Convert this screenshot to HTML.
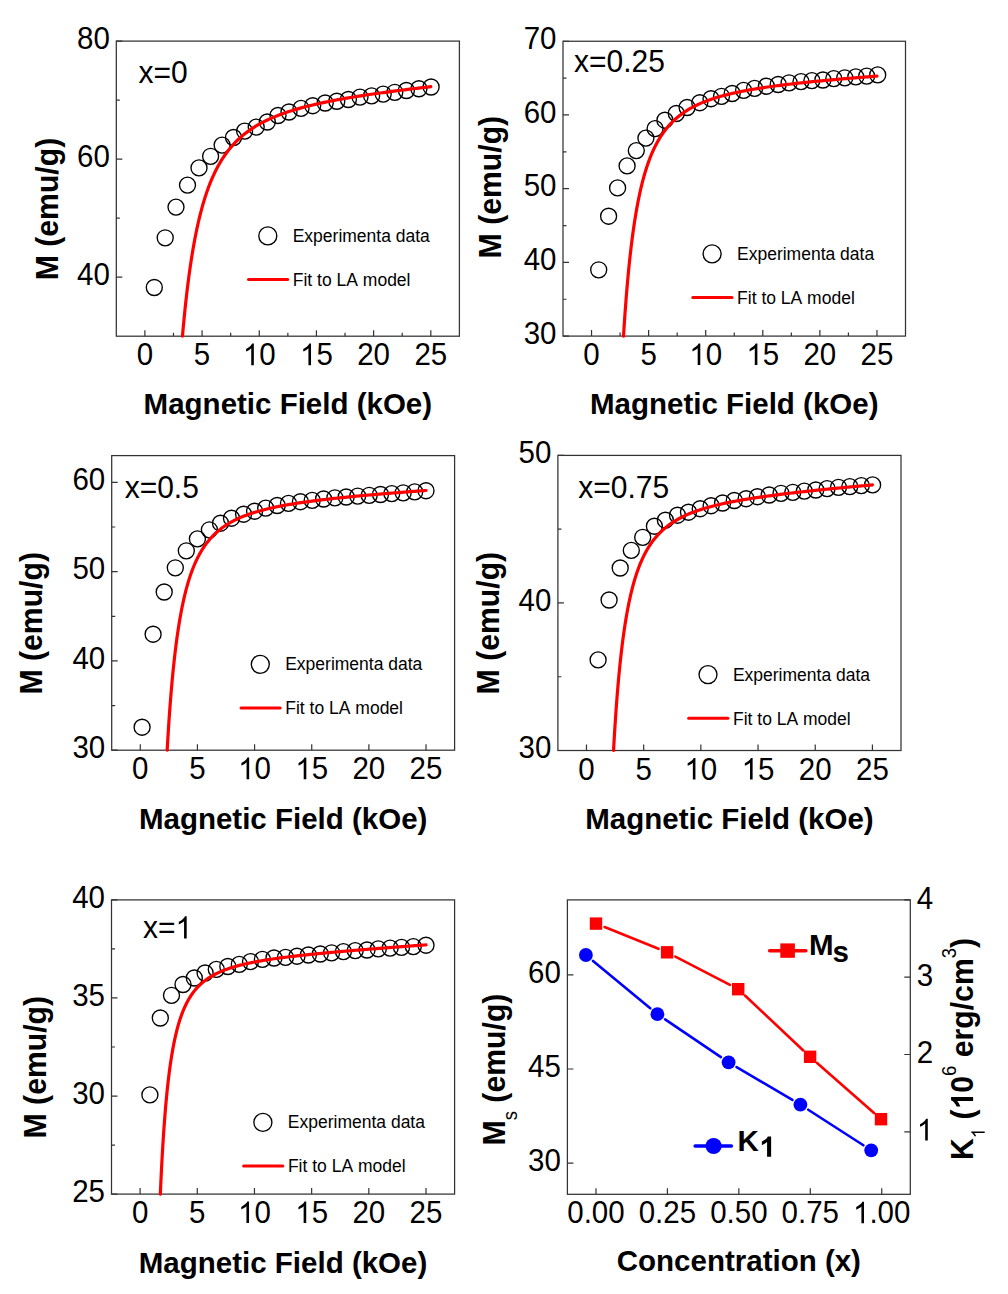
<!DOCTYPE html>
<html><head><meta charset="utf-8"><style>
html,body{margin:0;padding:0;background:#fff;}
svg{display:block;}
text{font-family:"Liberation Sans", sans-serif;fill:#000;font-kerning:none;white-space:pre;}
</style></head><body>
<svg width="1008" height="1294" viewBox="0 0 1008 1294">
<rect width="1008" height="1294" fill="#fff"/>
<path d="M116.30 277.18h6M116.30 159.14h6M116.30 41.10h6M116.30 218.16h3.5M116.30 100.12h3.5M144.89 336.20v-6M202.07 336.20v-6M259.26 336.20v-6M316.44 336.20v-6M373.62 336.20v-6M430.81 336.20v-6M173.48 336.20v-3.5M230.67 336.20v-3.5M287.85 336.20v-3.5M345.03 336.20v-3.5M402.22 336.20v-3.5" stroke="#333" stroke-width="1.2" fill="none"/>
<rect x="116.30" y="41.10" width="343.10" height="295.10" fill="none" stroke="#333" stroke-width="1.25"/>
<text transform="translate(76.99 284.98) scale(1 1.065)" font-size="29.5" font-weight="normal">40</text>
<text transform="translate(76.99 166.94) scale(1 1.065)" font-size="29.5" font-weight="normal">60</text>
<text transform="translate(76.99 48.90) scale(1 1.065)" font-size="29.5" font-weight="normal">80</text>
<text transform="translate(136.69 365.20) scale(1 1.065)" font-size="29.5" font-weight="normal">0</text>
<text transform="translate(193.87 365.20) scale(1 1.065)" font-size="29.5" font-weight="normal">5</text>
<path transform="translate(242.85 365.20) scale(0.01440 -0.01534)" d="M763 0H583V1098Q518 1038 413 979T223 890V1057Q374 1125 487 1221T647 1409H763Z" fill="#000"/><text transform="translate(259.26 365.20) scale(1 1.065)" font-size="29.5" font-weight="normal">0</text>
<path transform="translate(300.04 365.20) scale(0.01440 -0.01534)" d="M763 0H583V1098Q518 1038 413 979T223 890V1057Q374 1125 487 1221T647 1409H763Z" fill="#000"/><text transform="translate(316.44 365.20) scale(1 1.065)" font-size="29.5" font-weight="normal">5</text>
<text transform="translate(357.22 365.20) scale(1 1.065)" font-size="29.5" font-weight="normal">20</text>
<text transform="translate(414.40 365.20) scale(1 1.065)" font-size="29.5" font-weight="normal">25</text>
<text x="143.61" y="414.20" font-size="29.5" font-weight="bold">Magnetic Field (kOe)</text>
<g transform="translate(57.80 209.00) rotate(-90)"><text transform="translate(-71.30 0.00) scale(1 1.06)" font-size="30.2" font-weight="bold">M (emu/g)</text></g>
<text transform="translate(138.50 82.50) scale(1 1.07)" font-size="30" font-weight="normal">x=0</text>
<g fill="none" stroke="#000" stroke-width="1.35"><circle cx="154.30" cy="287.50" r="8"/><circle cx="165.20" cy="237.80" r="8"/><circle cx="176.00" cy="207.10" r="8"/><circle cx="187.50" cy="185.10" r="8"/><circle cx="199.00" cy="167.90" r="8"/><circle cx="210.60" cy="156.30" r="8"/><circle cx="222.10" cy="145.10" r="8"/><circle cx="233.50" cy="137.50" r="8"/><circle cx="244.60" cy="131.10" r="8"/><circle cx="256.20" cy="127.10" r="8"/><circle cx="267.30" cy="122.00" r="8"/><circle cx="278.00" cy="115.50" r="8"/><circle cx="289.00" cy="112.00" r="8"/><circle cx="301.00" cy="108.40" r="8"/><circle cx="312.70" cy="105.70" r="8"/><circle cx="325.20" cy="103.00" r="8"/><circle cx="336.80" cy="101.25" r="8"/><circle cx="348.40" cy="99.50" r="8"/><circle cx="360.00" cy="97.10" r="8"/><circle cx="371.60" cy="95.90" r="8"/><circle cx="383.20" cy="94.10" r="8"/><circle cx="394.80" cy="92.30" r="8"/><circle cx="406.40" cy="90.50" r="8"/><circle cx="418.90" cy="88.75" r="8"/><circle cx="431.10" cy="87.00" r="8"/></g>
<path d="M182.47 336.20 L182.67 333.90 L182.87 331.63 L183.07 329.39 L183.27 327.19 L183.47 325.01 L183.68 322.87 L183.88 320.76 L184.08 318.68 L184.28 316.62 L184.48 314.60 L184.68 312.60 L184.88 310.63 L185.08 308.69 L185.28 306.78 L185.48 304.89 L185.69 303.02 L185.89 301.18 L186.09 299.37 L186.29 297.58 L186.49 295.81 L186.69 294.07 L186.89 292.35 L187.09 290.65 L187.29 288.98 L187.49 287.33 L187.70 285.69 L187.90 284.08 L188.10 282.49 L188.30 280.92 L188.50 279.37 L188.70 277.84 L188.90 276.33 L189.10 274.84 L189.30 273.37 L189.50 271.91 L189.71 270.47 L189.91 269.05 L190.11 267.65 L190.31 266.27 L190.51 264.90 L190.71 263.55 L190.91 262.21 L191.11 260.89 L191.31 259.59 L191.51 258.30 L191.72 257.03 L191.92 255.77 L192.12 254.53 L192.32 253.30 L192.52 252.09 L192.72 250.89 L192.92 249.70 L193.12 248.53 L193.32 247.37 L193.52 246.22 L193.73 245.09 L193.93 243.97 L194.13 242.86 L194.33 241.77 L194.53 240.69 L194.73 239.62 L194.93 238.56 L195.13 237.51 L195.33 236.48 L195.54 235.45 L195.74 234.44 L195.94 233.44 L196.14 232.45 L196.34 231.47 L196.54 230.50 L196.74 229.54 L196.94 228.59 L197.14 227.65 L197.34 226.73 L197.55 225.81 L197.75 224.90 L197.95 224.00 L198.15 223.11 L198.35 222.23 L198.55 221.36 L198.75 220.49 L198.95 219.64 L199.15 218.80 L199.35 217.96 L199.56 217.13 L199.76 216.31 L199.96 215.50 L200.16 214.70 L200.36 213.90 L200.56 213.12 L200.76 212.34 L200.96 211.57 L201.16 210.80 L201.36 210.05 L201.57 209.30 L201.77 208.56 L201.97 207.82 L202.17 207.09 L202.37 206.37 L202.57 205.66 L202.77 204.95 L202.97 204.26 L203.17 203.56 L203.37 202.88 L203.58 202.20 L203.78 201.52 L203.98 200.86 L204.18 200.20 L204.38 199.54 L204.58 198.89 L204.78 198.25 L204.98 197.61 L205.18 196.98 L205.38 196.36 L205.59 195.74 L205.79 195.13 L205.99 194.52 L206.19 193.92 L206.39 193.32 L206.59 192.73 L206.79 192.14 L206.99 191.56 L207.19 190.99 L207.39 190.42 L207.60 189.85 L207.80 189.29 L208.00 188.73 L208.20 188.18 L208.40 187.64 L208.60 187.10 L208.80 186.56 L209.00 186.03 L209.20 185.50 L209.40 184.98 L209.61 184.46 L209.81 183.95 L210.01 183.44 L210.21 182.93 L210.41 182.43 L210.61 181.94 L210.81 181.44 L211.01 180.96 L211.21 180.47 L211.41 179.99 L211.62 179.52 L211.82 179.04 L212.02 178.58 L212.22 178.11 L212.42 177.65 L212.62 177.19 L212.82 176.74 L213.02 176.29 L213.22 175.85 L213.42 175.40 L213.63 174.97 L213.83 174.53 L214.03 174.10 L214.23 173.67 L214.43 173.25 L214.63 172.82 L214.83 172.41 L215.03 171.99 L215.23 171.58 L215.43 171.17 L215.64 170.77 L215.84 170.37 L216.04 169.97 L216.24 169.57 L216.44 169.18 L216.64 168.79 L216.84 168.40 L217.04 168.02 L217.24 167.64 L217.44 167.26 L217.65 166.89 L217.85 166.51 L218.05 166.14 L218.25 165.78 L218.45 165.41 L218.65 165.05 L218.85 164.69 L219.05 164.34 L219.25 163.99 L219.45 163.63 L219.66 163.29 L219.86 162.94 L220.06 162.60 L220.26 162.26 L220.46 161.92 L220.66 161.58 L220.86 161.25 L221.06 160.92 L221.26 160.59 L221.46 160.27 L221.67 159.94 L221.87 159.62 L222.07 159.30 L222.27 158.99 L222.47 158.67 L224.22 156.03 L225.97 153.53 L227.72 151.18 L229.47 148.96 L231.22 146.86 L232.97 144.87 L234.72 142.99 L236.48 141.20 L238.23 139.50 L239.98 137.88 L241.73 136.34 L243.48 134.87 L245.23 133.47 L246.98 132.12 L248.73 130.84 L250.48 129.61 L252.23 128.44 L253.98 127.31 L255.73 126.22 L257.48 125.18 L259.24 124.18 L260.99 123.22 L262.74 122.29 L264.49 121.39 L266.24 120.53 L267.99 119.70 L269.74 118.89 L271.49 118.11 L273.24 117.36 L274.99 116.63 L276.74 115.92 L278.49 115.24 L280.24 114.57 L282.00 113.92 L283.75 113.30 L285.50 112.69 L287.25 112.09 L289.00 111.52 L290.75 110.96 L292.50 110.41 L294.25 109.88 L296.00 109.36 L297.75 108.85 L299.50 108.35 L301.25 107.87 L303.00 107.40 L304.75 106.93 L306.51 106.48 L308.26 106.04 L310.01 105.61 L311.76 105.18 L313.51 104.77 L315.26 104.36 L317.01 103.96 L318.76 103.57 L320.51 103.18 L322.26 102.81 L324.01 102.44 L325.76 102.07 L327.51 101.71 L329.27 101.36 L331.02 101.02 L332.77 100.67 L334.52 100.34 L336.27 100.01 L338.02 99.68 L339.77 99.36 L341.52 99.05 L343.27 98.74 L345.02 98.43 L346.77 98.13 L348.52 97.83 L350.27 97.54 L352.02 97.24 L353.78 96.96 L355.53 96.67 L357.28 96.39 L359.03 96.12 L360.78 95.84 L362.53 95.57 L364.28 95.31 L366.03 95.04 L367.78 94.78 L369.53 94.52 L371.28 94.26 L373.03 94.01 L374.78 93.76 L376.54 93.51 L378.29 93.26 L380.04 93.02 L381.79 92.78 L383.54 92.54 L385.29 92.30 L387.04 92.06 L388.79 91.83 L390.54 91.60 L392.29 91.37 L394.04 91.14 L395.79 90.91 L397.54 90.69 L399.29 90.47 L401.05 90.25 L402.80 90.03 L404.55 89.81 L406.30 89.59 L408.05 89.38 L409.80 89.16 L411.55 88.95 L413.30 88.74 L415.05 88.53 L416.80 88.32 L418.55 88.11 L420.30 87.91 L422.05 87.70 L423.81 87.50 L425.56 87.30 L427.31 87.10 L429.06 86.90 L430.81 86.70" fill="none" stroke="#f00" stroke-width="3.2" stroke-linecap="round" stroke-linejoin="round"/>
<circle cx="267.80" cy="235.90" r="9" fill="none" stroke="#000" stroke-width="1.35"/>
<text x="292.70" y="241.80" font-size="17.5" font-weight="normal">Experimenta data</text>
<path d="M248.50 279.60H287.70" stroke="#f00" stroke-width="3" stroke-linecap="round"/>
<text x="292.80" y="285.90" font-size="17.5" font-weight="normal">Fit to LA model</text>
<path d="M563.00 336.10h6M563.00 262.39h6M563.00 188.68h6M563.00 114.96h6M563.00 41.25h6M563.00 299.24h3.5M563.00 225.53h3.5M563.00 151.82h3.5M563.00 78.11h3.5M591.54 336.10v-6M648.62 336.10v-6M705.71 336.10v-6M762.79 336.10v-6M819.88 336.10v-6M876.96 336.10v-6M620.08 336.10v-3.5M677.17 336.10v-3.5M734.25 336.10v-3.5M791.33 336.10v-3.5M848.42 336.10v-3.5" stroke="#333" stroke-width="1.2" fill="none"/>
<rect x="563.00" y="41.25" width="342.50" height="294.85" fill="none" stroke="#333" stroke-width="1.25"/>
<text transform="translate(523.69 343.90) scale(1 1.065)" font-size="29.5" font-weight="normal">30</text>
<text transform="translate(523.69 270.19) scale(1 1.065)" font-size="29.5" font-weight="normal">40</text>
<text transform="translate(523.69 196.48) scale(1 1.065)" font-size="29.5" font-weight="normal">50</text>
<text transform="translate(523.69 122.76) scale(1 1.065)" font-size="29.5" font-weight="normal">60</text>
<text transform="translate(523.69 49.05) scale(1 1.065)" font-size="29.5" font-weight="normal">70</text>
<text transform="translate(583.34 365.10) scale(1 1.065)" font-size="29.5" font-weight="normal">0</text>
<text transform="translate(640.42 365.10) scale(1 1.065)" font-size="29.5" font-weight="normal">5</text>
<path transform="translate(689.30 365.10) scale(0.01440 -0.01534)" d="M763 0H583V1098Q518 1038 413 979T223 890V1057Q374 1125 487 1221T647 1409H763Z" fill="#000"/><text transform="translate(705.71 365.10) scale(1 1.065)" font-size="29.5" font-weight="normal">0</text>
<path transform="translate(746.39 365.10) scale(0.01440 -0.01534)" d="M763 0H583V1098Q518 1038 413 979T223 890V1057Q374 1125 487 1221T647 1409H763Z" fill="#000"/><text transform="translate(762.79 365.10) scale(1 1.065)" font-size="29.5" font-weight="normal">5</text>
<text transform="translate(803.47 365.10) scale(1 1.065)" font-size="29.5" font-weight="normal">20</text>
<text transform="translate(860.55 365.10) scale(1 1.065)" font-size="29.5" font-weight="normal">25</text>
<text x="590.01" y="414.20" font-size="29.5" font-weight="bold">Magnetic Field (kOe)</text>
<g transform="translate(500.70 187.10) rotate(-90)"><text transform="translate(-71.30 0.00) scale(1 1.06)" font-size="30.2" font-weight="bold">M (emu/g)</text></g>
<text transform="translate(574.00 72.20) scale(1 1.07)" font-size="30" font-weight="normal">x=0.25</text>
<g fill="none" stroke="#000" stroke-width="1.35"><circle cx="598.70" cy="269.80" r="8"/><circle cx="608.60" cy="216.20" r="8"/><circle cx="617.60" cy="187.90" r="8"/><circle cx="627.10" cy="165.90" r="8"/><circle cx="636.30" cy="150.60" r="8"/><circle cx="645.90" cy="138.10" r="8"/><circle cx="655.10" cy="128.60" r="8"/><circle cx="664.90" cy="120.20" r="8"/><circle cx="676.30" cy="113.50" r="8"/><circle cx="687.10" cy="107.50" r="8"/><circle cx="699.80" cy="102.70" r="8"/><circle cx="711.00" cy="98.70" r="8"/><circle cx="721.50" cy="96.30" r="8"/><circle cx="732.20" cy="93.50" r="8"/><circle cx="743.60" cy="90.40" r="8"/><circle cx="754.60" cy="88.40" r="8"/><circle cx="766.40" cy="86.20" r="8"/><circle cx="778.20" cy="84.50" r="8"/><circle cx="789.10" cy="82.80" r="8"/><circle cx="801.00" cy="81.60" r="8"/><circle cx="811.90" cy="80.60" r="8"/><circle cx="822.90" cy="80.00" r="8"/><circle cx="833.80" cy="78.60" r="8"/><circle cx="844.80" cy="77.80" r="8"/><circle cx="855.80" cy="76.90" r="8"/><circle cx="866.70" cy="76.10" r="8"/><circle cx="877.70" cy="74.90" r="8"/></g>
<path d="M623.51 336.10 L623.71 332.89 L623.91 329.74 L624.11 326.65 L624.31 323.62 L624.51 320.64 L624.71 317.72 L624.91 314.86 L625.11 312.04 L625.32 309.28 L625.52 306.57 L625.72 303.91 L625.92 301.29 L626.12 298.73 L626.32 296.20 L626.52 293.73 L626.72 291.29 L626.92 288.90 L627.12 286.55 L627.33 284.24 L627.53 281.97 L627.73 279.73 L627.93 277.54 L628.13 275.38 L628.33 273.26 L628.53 271.17 L628.73 269.12 L628.93 267.10 L629.13 265.12 L629.34 263.17 L629.54 261.24 L629.74 259.35 L629.94 257.49 L630.14 255.66 L630.34 253.86 L630.54 252.09 L630.74 250.34 L630.94 248.62 L631.14 246.93 L631.35 245.27 L631.55 243.63 L631.75 242.01 L631.95 240.42 L632.15 238.85 L632.35 237.31 L632.55 235.79 L632.75 234.29 L632.95 232.81 L633.15 231.36 L633.36 229.93 L633.56 228.52 L633.76 227.13 L633.96 225.75 L634.16 224.40 L634.36 223.07 L634.56 221.76 L634.76 220.46 L634.96 219.18 L635.17 217.93 L635.37 216.68 L635.57 215.46 L635.77 214.25 L635.97 213.06 L636.17 211.89 L636.37 210.73 L636.57 209.59 L636.77 208.46 L636.97 207.35 L637.18 206.25 L637.38 205.17 L637.58 204.10 L637.78 203.04 L637.98 202.00 L638.18 200.98 L638.38 199.96 L638.58 198.96 L638.78 197.97 L638.98 197.00 L639.19 196.04 L639.39 195.09 L639.59 194.15 L639.79 193.22 L639.99 192.31 L640.19 191.40 L640.39 190.51 L640.59 189.63 L640.79 188.76 L640.99 187.90 L641.20 187.05 L641.40 186.21 L641.60 185.38 L641.80 184.56 L642.00 183.75 L642.20 182.95 L642.40 182.16 L642.60 181.38 L642.80 180.61 L643.00 179.85 L643.21 179.10 L643.41 178.35 L643.61 177.62 L643.81 176.89 L644.01 176.17 L644.21 175.46 L644.41 174.76 L644.61 174.06 L644.81 173.38 L645.01 172.70 L645.22 172.02 L645.42 171.36 L645.62 170.70 L645.82 170.06 L646.02 169.41 L646.22 168.78 L646.42 168.15 L646.62 167.53 L646.82 166.92 L647.02 166.31 L647.23 165.71 L647.43 165.11 L647.63 164.52 L647.83 163.94 L648.03 163.37 L648.23 162.80 L648.43 162.23 L648.63 161.67 L648.83 161.12 L649.03 160.58 L649.24 160.04 L649.44 159.50 L649.64 158.97 L649.84 158.45 L650.04 157.93 L650.24 157.42 L650.44 156.91 L650.64 156.41 L650.84 155.91 L651.04 155.42 L651.25 154.93 L651.45 154.44 L651.65 153.97 L651.85 153.49 L652.05 153.02 L652.25 152.56 L652.45 152.10 L652.65 151.65 L652.85 151.19 L653.05 150.75 L653.26 150.31 L653.46 149.87 L653.66 149.44 L653.86 149.01 L654.06 148.58 L654.26 148.16 L654.46 147.74 L654.66 147.33 L654.86 146.92 L655.06 146.51 L655.27 146.11 L655.47 145.71 L655.67 145.32 L655.87 144.93 L656.07 144.54 L656.27 144.16 L656.47 143.78 L656.67 143.40 L656.87 143.03 L657.07 142.66 L657.28 142.29 L657.48 141.93 L657.68 141.57 L657.88 141.21 L658.08 140.86 L658.28 140.51 L658.48 140.16 L658.68 139.82 L658.88 139.48 L659.08 139.14 L659.29 138.80 L659.49 138.47 L659.69 138.14 L659.89 137.81 L660.09 137.49 L660.29 137.17 L660.49 136.85 L660.69 136.54 L660.89 136.22 L661.09 135.91 L661.30 135.60 L661.50 135.30 L661.70 135.00 L661.90 134.70 L662.10 134.40 L662.30 134.10 L662.50 133.81 L662.70 133.52 L662.90 133.23 L663.10 132.95 L663.31 132.67 L663.51 132.39 L665.30 129.98 L667.09 127.74 L668.89 125.64 L670.68 123.68 L672.48 121.85 L674.27 120.13 L676.06 118.51 L677.86 116.99 L679.65 115.55 L681.44 114.20 L683.24 112.92 L685.03 111.70 L686.82 110.55 L688.62 109.46 L690.41 108.42 L692.21 107.43 L694.00 106.49 L695.79 105.59 L697.59 104.74 L699.38 103.92 L701.17 103.13 L702.97 102.38 L704.76 101.66 L706.56 100.97 L708.35 100.31 L710.14 99.67 L711.94 99.05 L713.73 98.46 L715.52 97.89 L717.32 97.34 L719.11 96.81 L720.91 96.30 L722.70 95.80 L724.49 95.32 L726.29 94.86 L728.08 94.41 L729.87 93.97 L731.67 93.55 L733.46 93.14 L735.26 92.74 L737.05 92.35 L738.84 91.97 L740.64 91.60 L742.43 91.24 L744.22 90.90 L746.02 90.55 L747.81 90.22 L749.60 89.90 L751.40 89.58 L753.19 89.27 L754.99 88.97 L756.78 88.67 L758.57 88.38 L760.37 88.10 L762.16 87.82 L763.95 87.55 L765.75 87.28 L767.54 87.02 L769.34 86.77 L771.13 86.51 L772.92 86.27 L774.72 86.02 L776.51 85.78 L778.30 85.55 L780.10 85.32 L781.89 85.09 L783.69 84.87 L785.48 84.65 L787.27 84.43 L789.07 84.22 L790.86 84.00 L792.65 83.80 L794.45 83.59 L796.24 83.39 L798.04 83.19 L799.83 82.99 L801.62 82.80 L803.42 82.61 L805.21 82.42 L807.00 82.23 L808.80 82.05 L810.59 81.86 L812.38 81.68 L814.18 81.50 L815.97 81.33 L817.77 81.15 L819.56 80.98 L821.35 80.80 L823.15 80.63 L824.94 80.47 L826.73 80.30 L828.53 80.13 L830.32 79.97 L832.12 79.81 L833.91 79.65 L835.70 79.49 L837.50 79.33 L839.29 79.17 L841.08 79.02 L842.88 78.86 L844.67 78.71 L846.47 78.56 L848.26 78.40 L850.05 78.25 L851.85 78.11 L853.64 77.96 L855.43 77.81 L857.23 77.66 L859.02 77.52 L860.81 77.37 L862.61 77.23 L864.40 77.09 L866.20 76.95 L867.99 76.81 L869.78 76.67 L871.58 76.53 L873.37 76.39 L875.16 76.25 L876.96 76.11" fill="none" stroke="#f00" stroke-width="3.2" stroke-linecap="round" stroke-linejoin="round"/>
<circle cx="712.10" cy="253.80" r="9" fill="none" stroke="#000" stroke-width="1.35"/>
<text x="737.00" y="259.70" font-size="17.5" font-weight="normal">Experimenta data</text>
<path d="M692.80 297.50H732.00" stroke="#f00" stroke-width="3" stroke-linecap="round"/>
<text x="737.10" y="303.80" font-size="17.5" font-weight="normal">Fit to LA model</text>
<path d="M111.70 750.20h6M111.70 660.93h6M111.70 571.65h6M111.70 482.38h6M111.70 705.56h3.5M111.70 616.29h3.5M111.70 527.02h3.5M140.28 750.20v-6M197.43 750.20v-6M254.58 750.20v-6M311.73 750.20v-6M368.88 750.20v-6M426.03 750.20v-6" stroke="#333" stroke-width="1.2" fill="none"/>
<rect x="111.70" y="455.60" width="342.90" height="294.60" fill="none" stroke="#333" stroke-width="1.25"/>
<text transform="translate(72.39 758.00) scale(1 1.065)" font-size="29.5" font-weight="normal">30</text>
<text transform="translate(72.39 668.73) scale(1 1.065)" font-size="29.5" font-weight="normal">40</text>
<text transform="translate(72.39 579.45) scale(1 1.065)" font-size="29.5" font-weight="normal">50</text>
<text transform="translate(72.39 490.18) scale(1 1.065)" font-size="29.5" font-weight="normal">60</text>
<text transform="translate(132.07 779.20) scale(1 1.065)" font-size="29.5" font-weight="normal">0</text>
<text transform="translate(189.22 779.20) scale(1 1.065)" font-size="29.5" font-weight="normal">5</text>
<path transform="translate(238.17 779.20) scale(0.01440 -0.01534)" d="M763 0H583V1098Q518 1038 413 979T223 890V1057Q374 1125 487 1221T647 1409H763Z" fill="#000"/><text transform="translate(254.58 779.20) scale(1 1.065)" font-size="29.5" font-weight="normal">0</text>
<path transform="translate(295.32 779.20) scale(0.01440 -0.01534)" d="M763 0H583V1098Q518 1038 413 979T223 890V1057Q374 1125 487 1221T647 1409H763Z" fill="#000"/><text transform="translate(311.73 779.20) scale(1 1.065)" font-size="29.5" font-weight="normal">5</text>
<text transform="translate(352.47 779.20) scale(1 1.065)" font-size="29.5" font-weight="normal">20</text>
<text transform="translate(409.62 779.20) scale(1 1.065)" font-size="29.5" font-weight="normal">25</text>
<text x="138.91" y="828.60" font-size="29.5" font-weight="bold">Magnetic Field (kOe)</text>
<g transform="translate(42.00 623.25) rotate(-90)"><text transform="translate(-71.30 0.00) scale(1 1.06)" font-size="30.2" font-weight="bold">M (emu/g)</text></g>
<text transform="translate(124.70 498.00) scale(1 1.07)" font-size="30" font-weight="normal">x=0.5</text>
<g fill="none" stroke="#000" stroke-width="1.35"><circle cx="142.10" cy="727.20" r="8"/><circle cx="153.10" cy="634.20" r="8"/><circle cx="164.20" cy="592.00" r="8"/><circle cx="175.30" cy="567.80" r="8"/><circle cx="186.30" cy="550.80" r="8"/><circle cx="197.40" cy="538.90" r="8"/><circle cx="209.40" cy="529.80" r="8"/><circle cx="220.50" cy="523.20" r="8"/><circle cx="231.50" cy="518.20" r="8"/><circle cx="243.60" cy="514.20" r="8"/><circle cx="254.60" cy="511.20" r="8"/><circle cx="265.70" cy="508.10" r="8"/><circle cx="277.20" cy="505.50" r="8"/><circle cx="288.50" cy="503.40" r="8"/><circle cx="300.40" cy="501.70" r="8"/><circle cx="312.20" cy="500.40" r="8"/><circle cx="323.60" cy="499.00" r="8"/><circle cx="334.90" cy="497.80" r="8"/><circle cx="346.20" cy="497.00" r="8"/><circle cx="357.70" cy="496.10" r="8"/><circle cx="369.20" cy="495.30" r="8"/><circle cx="380.50" cy="494.50" r="8"/><circle cx="391.80" cy="493.60" r="8"/><circle cx="403.20" cy="492.80" r="8"/><circle cx="414.70" cy="491.90" r="8"/><circle cx="426.00" cy="490.70" r="8"/></g>
<path d="M167.16 750.20 L167.37 746.67 L167.57 743.22 L167.77 739.84 L167.97 736.53 L168.17 733.28 L168.37 730.11 L168.57 727.00 L168.77 723.95 L168.97 720.96 L169.17 718.03 L169.38 715.16 L169.58 712.35 L169.78 709.59 L169.98 706.89 L170.18 704.24 L170.38 701.64 L170.58 699.09 L170.78 696.58 L170.98 694.13 L171.18 691.72 L171.39 689.35 L171.59 687.03 L171.79 684.75 L171.99 682.51 L172.19 680.32 L172.39 678.16 L172.59 676.04 L172.79 673.96 L172.99 671.91 L173.19 669.91 L173.40 667.93 L173.60 665.99 L173.80 664.09 L174.00 662.21 L174.20 660.37 L174.40 658.56 L174.60 656.79 L174.80 655.04 L175.00 653.32 L175.20 651.62 L175.41 649.96 L175.61 648.33 L175.81 646.72 L176.01 645.13 L176.21 643.57 L176.41 642.04 L176.61 640.53 L176.81 639.05 L177.01 637.59 L177.21 636.15 L177.42 634.73 L177.62 633.34 L177.82 631.97 L178.02 630.62 L178.22 629.28 L178.42 627.97 L178.62 626.68 L178.82 625.41 L179.02 624.16 L179.23 622.93 L179.43 621.71 L179.63 620.51 L179.83 619.33 L180.03 618.17 L180.23 617.03 L180.43 615.90 L180.63 614.78 L180.83 613.69 L181.03 612.61 L181.24 611.54 L181.44 610.49 L181.64 609.45 L181.84 608.43 L182.04 607.42 L182.24 606.43 L182.44 605.45 L182.64 604.48 L182.84 603.53 L183.04 602.59 L183.25 601.66 L183.45 600.74 L183.65 599.84 L183.85 598.95 L184.05 598.07 L184.25 597.20 L184.45 596.35 L184.65 595.50 L184.85 594.67 L185.05 593.84 L185.26 593.03 L185.46 592.23 L185.66 591.44 L185.86 590.65 L186.06 589.88 L186.26 589.12 L186.46 588.37 L186.66 587.62 L186.86 586.89 L187.06 586.16 L187.27 585.45 L187.47 584.74 L187.67 584.04 L187.87 583.35 L188.07 582.67 L188.27 581.99 L188.47 581.33 L188.67 580.67 L188.87 580.02 L189.07 579.38 L189.28 578.74 L189.48 578.12 L189.68 577.50 L189.88 576.88 L190.08 576.28 L190.28 575.68 L190.48 575.09 L190.68 574.50 L190.88 573.93 L191.08 573.35 L191.29 572.79 L191.49 572.23 L191.69 571.68 L191.89 571.13 L192.09 570.59 L192.29 570.06 L192.49 569.53 L192.69 569.01 L192.89 568.49 L193.09 567.98 L193.30 567.47 L193.50 566.97 L193.70 566.48 L193.90 565.99 L194.10 565.50 L194.30 565.03 L194.50 564.55 L194.70 564.08 L194.90 563.62 L195.10 563.16 L195.31 562.71 L195.51 562.26 L195.71 561.81 L195.91 561.37 L196.11 560.93 L196.31 560.50 L196.51 560.08 L196.71 559.65 L196.91 559.24 L197.11 558.82 L197.32 558.41 L197.52 558.01 L197.72 557.60 L197.92 557.21 L198.12 556.81 L198.32 556.42 L198.52 556.04 L198.72 555.66 L198.92 555.28 L199.12 554.90 L199.33 554.53 L199.53 554.16 L199.73 553.80 L199.93 553.44 L200.13 553.08 L200.33 552.73 L200.53 552.38 L200.73 552.03 L200.93 551.69 L201.13 551.35 L201.34 551.01 L201.54 550.68 L201.74 550.34 L201.94 550.02 L202.14 549.69 L202.34 549.37 L202.54 549.05 L202.74 548.73 L202.94 548.42 L203.14 548.11 L203.35 547.80 L203.55 547.50 L203.75 547.20 L203.95 546.90 L204.15 546.60 L204.35 546.31 L204.55 546.02 L204.75 545.73 L204.95 545.44 L205.15 545.16 L205.36 544.87 L205.56 544.60 L205.76 544.32 L205.96 544.05 L206.16 543.77 L206.36 543.50 L206.56 543.24 L206.76 542.97 L206.96 542.71 L207.16 542.45 L209.00 540.17 L210.84 538.05 L212.68 536.08 L214.52 534.25 L216.36 532.54 L218.20 530.94 L220.04 529.44 L221.88 528.03 L223.72 526.71 L225.56 525.46 L227.40 524.28 L229.23 523.17 L231.07 522.12 L232.91 521.13 L234.75 520.18 L236.59 519.28 L238.43 518.43 L240.27 517.62 L242.11 516.84 L243.95 516.10 L245.79 515.39 L247.63 514.72 L249.47 514.07 L251.30 513.44 L253.14 512.85 L254.98 512.27 L256.82 511.72 L258.66 511.19 L260.50 510.68 L262.34 510.18 L264.18 509.70 L266.02 509.24 L267.86 508.80 L269.70 508.37 L271.54 507.95 L273.37 507.54 L275.21 507.15 L277.05 506.77 L278.89 506.40 L280.73 506.04 L282.57 505.69 L284.41 505.34 L286.25 505.01 L288.09 504.69 L289.93 504.37 L291.77 504.06 L293.61 503.76 L295.44 503.47 L297.28 503.18 L299.12 502.90 L300.96 502.62 L302.80 502.35 L304.64 502.09 L306.48 501.83 L308.32 501.57 L310.16 501.33 L312.00 501.08 L313.84 500.84 L315.68 500.60 L317.51 500.37 L319.35 500.15 L321.19 499.92 L323.03 499.70 L324.87 499.48 L326.71 499.27 L328.55 499.06 L330.39 498.85 L332.23 498.65 L334.07 498.44 L335.91 498.24 L337.75 498.05 L339.58 497.85 L341.42 497.66 L343.26 497.47 L345.10 497.29 L346.94 497.10 L348.78 496.92 L350.62 496.74 L352.46 496.56 L354.30 496.38 L356.14 496.21 L357.98 496.03 L359.82 495.86 L361.65 495.69 L363.49 495.52 L365.33 495.36 L367.17 495.19 L369.01 495.03 L370.85 494.87 L372.69 494.71 L374.53 494.55 L376.37 494.39 L378.21 494.23 L380.05 494.07 L381.89 493.92 L383.72 493.77 L385.56 493.61 L387.40 493.46 L389.24 493.31 L391.08 493.16 L392.92 493.01 L394.76 492.87 L396.60 492.72 L398.44 492.57 L400.28 492.43 L402.12 492.29 L403.96 492.14 L405.79 492.00 L407.63 491.86 L409.47 491.72 L411.31 491.58 L413.15 491.44 L414.99 491.30 L416.83 491.16 L418.67 491.02 L420.51 490.89 L422.35 490.75 L424.19 490.62 L426.03 490.48" fill="none" stroke="#f00" stroke-width="3.2" stroke-linecap="round" stroke-linejoin="round"/>
<circle cx="260.30" cy="664.30" r="9" fill="none" stroke="#000" stroke-width="1.35"/>
<text x="285.20" y="670.20" font-size="17.5" font-weight="normal">Experimenta data</text>
<path d="M241.00 708.00H280.20" stroke="#f00" stroke-width="3" stroke-linecap="round"/>
<text x="285.30" y="714.30" font-size="17.5" font-weight="normal">Fit to LA model</text>
<path d="M557.90 750.50h6M557.90 602.95h6M557.90 455.40h6M557.90 676.73h3.5M557.90 529.17h3.5M586.49 750.50v-6M643.67 750.50v-6M700.86 750.50v-6M758.04 750.50v-6M815.23 750.50v-6M872.41 750.50v-6" stroke="#333" stroke-width="1.2" fill="none"/>
<rect x="557.90" y="455.40" width="343.10" height="295.10" fill="none" stroke="#333" stroke-width="1.25"/>
<text transform="translate(518.59 758.30) scale(1 1.065)" font-size="29.5" font-weight="normal">30</text>
<text transform="translate(518.59 610.75) scale(1 1.065)" font-size="29.5" font-weight="normal">40</text>
<text transform="translate(518.59 463.20) scale(1 1.065)" font-size="29.5" font-weight="normal">50</text>
<text transform="translate(578.29 779.50) scale(1 1.065)" font-size="29.5" font-weight="normal">0</text>
<text transform="translate(635.47 779.50) scale(1 1.065)" font-size="29.5" font-weight="normal">5</text>
<path transform="translate(684.45 779.50) scale(0.01440 -0.01534)" d="M763 0H583V1098Q518 1038 413 979T223 890V1057Q374 1125 487 1221T647 1409H763Z" fill="#000"/><text transform="translate(700.86 779.50) scale(1 1.065)" font-size="29.5" font-weight="normal">0</text>
<path transform="translate(741.64 779.50) scale(0.01440 -0.01534)" d="M763 0H583V1098Q518 1038 413 979T223 890V1057Q374 1125 487 1221T647 1409H763Z" fill="#000"/><text transform="translate(758.04 779.50) scale(1 1.065)" font-size="29.5" font-weight="normal">5</text>
<text transform="translate(798.82 779.50) scale(1 1.065)" font-size="29.5" font-weight="normal">20</text>
<text transform="translate(856.00 779.50) scale(1 1.065)" font-size="29.5" font-weight="normal">25</text>
<text x="585.21" y="828.60" font-size="29.5" font-weight="bold">Magnetic Field (kOe)</text>
<g transform="translate(499.00 623.10) rotate(-90)"><text transform="translate(-71.30 0.00) scale(1 1.06)" font-size="30.2" font-weight="bold">M (emu/g)</text></g>
<text transform="translate(578.30 497.60) scale(1 1.07)" font-size="30" font-weight="normal">x=0.75</text>
<g fill="none" stroke="#000" stroke-width="1.35"><circle cx="598.10" cy="659.90" r="8"/><circle cx="609.10" cy="600.00" r="8"/><circle cx="620.20" cy="568.00" r="8"/><circle cx="631.30" cy="550.40" r="8"/><circle cx="642.70" cy="537.30" r="8"/><circle cx="654.40" cy="526.20" r="8"/><circle cx="665.40" cy="520.20" r="8"/><circle cx="677.50" cy="515.20" r="8"/><circle cx="688.50" cy="512.20" r="8"/><circle cx="700.20" cy="508.70" r="8"/><circle cx="711.10" cy="505.70" r="8"/><circle cx="722.60" cy="503.00" r="8"/><circle cx="734.30" cy="500.50" r="8"/><circle cx="746.10" cy="498.70" r="8"/><circle cx="757.40" cy="496.70" r="8"/><circle cx="769.20" cy="495.00" r="8"/><circle cx="781.00" cy="493.30" r="8"/><circle cx="792.80" cy="492.30" r="8"/><circle cx="804.30" cy="491.10" r="8"/><circle cx="815.80" cy="490.00" r="8"/><circle cx="827.10" cy="488.60" r="8"/><circle cx="838.50" cy="487.30" r="8"/><circle cx="849.80" cy="486.60" r="8"/><circle cx="861.30" cy="485.60" r="8"/><circle cx="872.60" cy="484.90" r="8"/></g>
<path d="M613.54 750.50 L613.74 746.89 L613.94 743.35 L614.14 739.89 L614.34 736.51 L614.54 733.19 L614.74 729.94 L614.95 726.76 L615.15 723.65 L615.35 720.60 L615.55 717.61 L615.75 714.68 L615.95 711.81 L616.15 709.00 L616.35 706.24 L616.55 703.54 L616.75 700.89 L616.96 698.29 L617.16 695.74 L617.36 693.24 L617.56 690.78 L617.76 688.37 L617.96 686.01 L618.16 683.69 L618.36 681.42 L618.56 679.18 L618.76 676.99 L618.97 674.84 L619.17 672.72 L619.37 670.65 L619.57 668.61 L619.77 666.60 L619.97 664.63 L620.17 662.70 L620.37 660.80 L620.57 658.93 L620.77 657.10 L620.98 655.29 L621.18 653.52 L621.38 651.78 L621.58 650.06 L621.78 648.38 L621.98 646.72 L622.18 645.09 L622.38 643.48 L622.58 641.91 L622.78 640.35 L622.99 638.83 L623.19 637.33 L623.39 635.85 L623.59 634.39 L623.79 632.96 L623.99 631.55 L624.19 630.16 L624.39 628.80 L624.59 627.45 L624.79 626.13 L625.00 624.82 L625.20 623.54 L625.40 622.27 L625.60 621.03 L625.80 619.80 L626.00 618.59 L626.20 617.40 L626.40 616.23 L626.60 615.07 L626.81 613.93 L627.01 612.81 L627.21 611.70 L627.41 610.61 L627.61 609.53 L627.81 608.47 L628.01 607.43 L628.21 606.40 L628.41 605.38 L628.61 604.38 L628.82 603.39 L629.02 602.42 L629.22 601.45 L629.42 600.51 L629.62 599.57 L629.82 598.65 L630.02 597.74 L630.22 596.84 L630.42 595.96 L630.62 595.08 L630.83 594.22 L631.03 593.37 L631.23 592.53 L631.43 591.70 L631.63 590.88 L631.83 590.07 L632.03 589.27 L632.23 588.49 L632.43 587.71 L632.63 586.94 L632.84 586.18 L633.04 585.44 L633.24 584.70 L633.44 583.97 L633.64 583.25 L633.84 582.54 L634.04 581.83 L634.24 581.14 L634.44 580.45 L634.64 579.77 L634.85 579.11 L635.05 578.44 L635.25 577.79 L635.45 577.14 L635.65 576.51 L635.85 575.88 L636.05 575.25 L636.25 574.64 L636.45 574.03 L636.65 573.43 L636.86 572.83 L637.06 572.24 L637.26 571.66 L637.46 571.09 L637.66 570.52 L637.86 569.96 L638.06 569.40 L638.26 568.85 L638.46 568.31 L638.66 567.77 L638.87 567.24 L639.07 566.72 L639.27 566.20 L639.47 565.69 L639.67 565.18 L639.87 564.68 L640.07 564.18 L640.27 563.69 L640.47 563.20 L640.67 562.72 L640.88 562.24 L641.08 561.77 L641.28 561.31 L641.48 560.84 L641.68 560.39 L641.88 559.94 L642.08 559.49 L642.28 559.05 L642.48 558.61 L642.68 558.18 L642.89 557.75 L643.09 557.32 L643.29 556.90 L643.49 556.49 L643.69 556.08 L643.89 555.67 L644.09 555.27 L644.29 554.87 L644.49 554.47 L644.69 554.08 L644.90 553.69 L645.10 553.31 L645.30 552.93 L645.50 552.55 L645.70 552.18 L645.90 551.81 L646.10 551.44 L646.30 551.08 L646.50 550.72 L646.70 550.37 L646.91 550.01 L647.11 549.67 L647.31 549.32 L647.51 548.98 L647.71 548.64 L647.91 548.30 L648.11 547.97 L648.31 547.64 L648.51 547.31 L648.71 546.99 L648.92 546.67 L649.12 546.35 L649.32 546.04 L649.52 545.73 L649.72 545.42 L649.92 545.11 L650.12 544.81 L650.32 544.51 L650.52 544.21 L650.72 543.91 L650.93 543.62 L651.13 543.33 L651.33 543.04 L651.53 542.76 L651.73 542.47 L651.93 542.19 L652.13 541.91 L652.33 541.64 L652.53 541.37 L652.73 541.09 L652.94 540.83 L653.14 540.56 L653.34 540.30 L653.54 540.03 L655.38 537.74 L657.22 535.60 L659.06 533.62 L660.90 531.77 L662.73 530.05 L664.57 528.43 L666.41 526.91 L668.25 525.49 L670.09 524.15 L671.93 522.89 L673.77 521.69 L675.61 520.56 L677.45 519.49 L679.29 518.48 L681.13 517.51 L682.97 516.60 L684.81 515.72 L686.65 514.89 L688.48 514.09 L690.32 513.33 L692.16 512.60 L694.00 511.90 L695.84 511.23 L697.68 510.58 L699.52 509.96 L701.36 509.36 L703.20 508.78 L705.04 508.23 L706.88 507.69 L708.72 507.17 L710.56 506.67 L712.39 506.18 L714.23 505.71 L716.07 505.26 L717.91 504.81 L719.75 504.38 L721.59 503.96 L723.43 503.55 L725.27 503.16 L727.11 502.77 L728.95 502.39 L730.79 502.02 L732.63 501.66 L734.47 501.31 L736.30 500.97 L738.14 500.63 L739.98 500.31 L741.82 499.98 L743.66 499.67 L745.50 499.36 L747.34 499.06 L749.18 498.76 L751.02 498.47 L752.86 498.18 L754.70 497.90 L756.54 497.62 L758.38 497.35 L760.21 497.08 L762.05 496.81 L763.89 496.55 L765.73 496.30 L767.57 496.04 L769.41 495.79 L771.25 495.55 L773.09 495.30 L774.93 495.06 L776.77 494.83 L778.61 494.59 L780.45 494.36 L782.29 494.13 L784.12 493.91 L785.96 493.68 L787.80 493.46 L789.64 493.25 L791.48 493.03 L793.32 492.81 L795.16 492.60 L797.00 492.39 L798.84 492.18 L800.68 491.98 L802.52 491.77 L804.36 491.57 L806.20 491.37 L808.03 491.17 L809.87 490.97 L811.71 490.77 L813.55 490.58 L815.39 490.39 L817.23 490.19 L819.07 490.00 L820.91 489.81 L822.75 489.62 L824.59 489.44 L826.43 489.25 L828.27 489.07 L830.11 488.88 L831.95 488.70 L833.78 488.52 L835.62 488.34 L837.46 488.16 L839.30 487.98 L841.14 487.80 L842.98 487.63 L844.82 487.45 L846.66 487.27 L848.50 487.10 L850.34 486.93 L852.18 486.75 L854.02 486.58 L855.86 486.41 L857.69 486.24 L859.53 486.07 L861.37 485.90 L863.21 485.73 L865.05 485.57 L866.89 485.40 L868.73 485.23 L870.57 485.07 L872.41 484.90" fill="none" stroke="#f00" stroke-width="3.2" stroke-linecap="round" stroke-linejoin="round"/>
<circle cx="708.00" cy="674.60" r="9" fill="none" stroke="#000" stroke-width="1.35"/>
<text x="732.90" y="680.50" font-size="17.5" font-weight="normal">Experimenta data</text>
<path d="M688.70 718.30H727.90" stroke="#f00" stroke-width="3" stroke-linecap="round"/>
<text x="733.00" y="724.60" font-size="17.5" font-weight="normal">Fit to LA model</text>
<path d="M111.50 1194.10h6M111.50 1096.03h6M111.50 997.97h6M111.50 899.90h6M111.50 1145.07h3.5M111.50 1047.00h3.5M111.50 948.93h3.5M140.09 1194.10v-6M197.28 1194.10v-6M254.46 1194.10v-6M311.64 1194.10v-6M368.83 1194.10v-6M426.01 1194.10v-6" stroke="#333" stroke-width="1.2" fill="none"/>
<rect x="111.50" y="899.90" width="343.10" height="294.20" fill="none" stroke="#333" stroke-width="1.25"/>
<text transform="translate(72.19 1201.90) scale(1 1.065)" font-size="29.5" font-weight="normal">25</text>
<text transform="translate(72.19 1103.83) scale(1 1.065)" font-size="29.5" font-weight="normal">30</text>
<text transform="translate(72.19 1005.77) scale(1 1.065)" font-size="29.5" font-weight="normal">35</text>
<text transform="translate(72.19 907.70) scale(1 1.065)" font-size="29.5" font-weight="normal">40</text>
<text transform="translate(131.89 1223.10) scale(1 1.065)" font-size="29.5" font-weight="normal">0</text>
<text transform="translate(189.07 1223.10) scale(1 1.065)" font-size="29.5" font-weight="normal">5</text>
<path transform="translate(238.05 1223.10) scale(0.01440 -0.01534)" d="M763 0H583V1098Q518 1038 413 979T223 890V1057Q374 1125 487 1221T647 1409H763Z" fill="#000"/><text transform="translate(254.46 1223.10) scale(1 1.065)" font-size="29.5" font-weight="normal">0</text>
<path transform="translate(295.24 1223.10) scale(0.01440 -0.01534)" d="M763 0H583V1098Q518 1038 413 979T223 890V1057Q374 1125 487 1221T647 1409H763Z" fill="#000"/><text transform="translate(311.64 1223.10) scale(1 1.065)" font-size="29.5" font-weight="normal">5</text>
<text transform="translate(352.42 1223.10) scale(1 1.065)" font-size="29.5" font-weight="normal">20</text>
<text transform="translate(409.60 1223.10) scale(1 1.065)" font-size="29.5" font-weight="normal">25</text>
<text x="138.81" y="1273.00" font-size="29.5" font-weight="bold">Magnetic Field (kOe)</text>
<g transform="translate(45.70 1067.15) rotate(-90)"><text transform="translate(-71.30 0.00) scale(1 1.06)" font-size="30.2" font-weight="bold">M (emu/g)</text></g>
<text transform="translate(143.00 938.40) scale(1 1.07)" font-size="30" font-weight="normal">x=</text><path transform="translate(175.52 938.40) scale(0.01465 -0.01567)" d="M763 0H583V1098Q518 1038 413 979T223 890V1057Q374 1125 487 1221T647 1409H763Z" fill="#000"/>
<g fill="none" stroke="#000" stroke-width="1.35"><circle cx="149.90" cy="1094.90" r="8"/><circle cx="160.30" cy="1018.00" r="8"/><circle cx="171.50" cy="995.30" r="8"/><circle cx="183.00" cy="984.50" r="8"/><circle cx="194.30" cy="978.00" r="8"/><circle cx="205.10" cy="973.00" r="8"/><circle cx="216.30" cy="969.40" r="8"/><circle cx="227.80" cy="966.50" r="8"/><circle cx="239.30" cy="964.40" r="8"/><circle cx="250.50" cy="961.60" r="8"/><circle cx="262.40" cy="959.40" r="8"/><circle cx="274.00" cy="958.00" r="8"/><circle cx="285.50" cy="957.40" r="8"/><circle cx="297.00" cy="956.20" r="8"/><circle cx="308.40" cy="955.00" r="8"/><circle cx="320.30" cy="954.00" r="8"/><circle cx="331.60" cy="952.80" r="8"/><circle cx="343.40" cy="951.60" r="8"/><circle cx="355.20" cy="950.60" r="8"/><circle cx="367.00" cy="950.00" r="8"/><circle cx="378.30" cy="948.90" r="8"/><circle cx="390.10" cy="948.10" r="8"/><circle cx="401.50" cy="947.40" r="8"/><circle cx="413.30" cy="946.60" r="8"/><circle cx="426.00" cy="945.20" r="8"/></g>
<path d="M160.33 1194.10 L160.53 1189.51 L160.73 1185.06 L160.93 1180.74 L161.13 1176.54 L161.33 1172.45 L161.53 1168.48 L161.74 1164.62 L161.94 1160.87 L162.14 1157.22 L162.34 1153.67 L162.54 1150.21 L162.74 1146.84 L162.94 1143.56 L163.14 1140.37 L163.34 1137.26 L163.54 1134.23 L163.75 1131.27 L163.95 1128.39 L164.15 1125.58 L164.35 1122.84 L164.55 1120.17 L164.75 1117.56 L164.95 1115.02 L165.15 1112.53 L165.35 1110.11 L165.55 1107.74 L165.76 1105.42 L165.96 1103.16 L166.16 1100.95 L166.36 1098.80 L166.56 1096.69 L166.76 1094.63 L166.96 1092.61 L167.16 1090.64 L167.36 1088.71 L167.56 1086.82 L167.77 1084.98 L167.97 1083.17 L168.17 1081.40 L168.37 1079.67 L168.57 1077.98 L168.77 1076.32 L168.97 1074.69 L169.17 1073.10 L169.37 1071.54 L169.57 1070.02 L169.78 1068.52 L169.98 1067.05 L170.18 1065.62 L170.38 1064.21 L170.58 1062.82 L170.78 1061.47 L170.98 1060.14 L171.18 1058.84 L171.38 1057.56 L171.58 1056.30 L171.79 1055.07 L171.99 1053.86 L172.19 1052.68 L172.39 1051.52 L172.59 1050.37 L172.79 1049.25 L172.99 1048.15 L173.19 1047.07 L173.39 1046.01 L173.59 1044.96 L173.80 1043.94 L174.00 1042.93 L174.20 1041.94 L174.40 1040.97 L174.60 1040.01 L174.80 1039.07 L175.00 1038.15 L175.20 1037.24 L175.40 1036.35 L175.60 1035.47 L175.81 1034.61 L176.01 1033.76 L176.21 1032.93 L176.41 1032.11 L176.61 1031.30 L176.81 1030.50 L177.01 1029.72 L177.21 1028.95 L177.41 1028.19 L177.61 1027.45 L177.82 1026.71 L178.02 1025.99 L178.22 1025.28 L178.42 1024.58 L178.62 1023.89 L178.82 1023.21 L179.02 1022.54 L179.22 1021.88 L179.42 1021.24 L179.62 1020.60 L179.83 1019.97 L180.03 1019.35 L180.23 1018.74 L180.43 1018.13 L180.63 1017.54 L180.83 1016.96 L181.03 1016.38 L181.23 1015.81 L181.43 1015.25 L181.63 1014.70 L181.84 1014.15 L182.04 1013.62 L182.24 1013.09 L182.44 1012.57 L182.64 1012.05 L182.84 1011.54 L183.04 1011.04 L183.24 1010.55 L183.44 1010.06 L183.64 1009.58 L183.85 1009.11 L184.05 1008.64 L184.25 1008.18 L184.45 1007.72 L184.65 1007.27 L184.85 1006.83 L185.05 1006.39 L185.25 1005.96 L185.45 1005.53 L185.65 1005.11 L185.86 1004.69 L186.06 1004.28 L186.26 1003.88 L186.46 1003.48 L186.66 1003.08 L186.86 1002.69 L187.06 1002.30 L187.26 1001.92 L187.46 1001.55 L187.66 1001.18 L187.87 1000.81 L188.07 1000.45 L188.27 1000.09 L188.47 999.73 L188.67 999.38 L188.87 999.04 L189.07 998.70 L189.27 998.36 L189.47 998.03 L189.67 997.70 L189.88 997.37 L190.08 997.05 L190.28 996.73 L190.48 996.42 L190.68 996.10 L190.88 995.80 L191.08 995.49 L191.28 995.19 L191.48 994.89 L191.68 994.60 L191.89 994.31 L192.09 994.02 L192.29 993.74 L192.49 993.46 L192.69 993.18 L192.89 992.90 L193.09 992.63 L193.29 992.36 L193.49 992.10 L193.69 991.83 L193.90 991.57 L194.10 991.31 L194.30 991.06 L194.50 990.81 L194.70 990.56 L194.90 990.31 L195.10 990.07 L195.30 989.82 L195.50 989.58 L195.70 989.35 L195.91 989.11 L196.11 988.88 L196.31 988.65 L196.51 988.42 L196.71 988.20 L196.91 987.97 L197.11 987.75 L197.31 987.53 L197.51 987.32 L197.72 987.10 L197.92 986.89 L198.12 986.68 L198.32 986.47 L198.52 986.26 L198.72 986.06 L198.92 985.86 L199.12 985.66 L199.32 985.46 L199.52 985.26 L199.73 985.07 L199.93 984.87 L200.13 984.68 L200.33 984.49 L202.22 982.79 L204.12 981.23 L206.02 979.79 L207.91 978.45 L209.81 977.22 L211.71 976.07 L213.60 975.00 L215.50 974.00 L217.40 973.07 L219.29 972.19 L221.19 971.37 L223.09 970.59 L224.98 969.85 L226.88 969.16 L228.78 968.50 L230.67 967.88 L232.57 967.28 L234.46 966.72 L236.36 966.18 L238.26 965.66 L240.15 965.17 L242.05 964.70 L243.95 964.24 L245.84 963.81 L247.74 963.39 L249.64 962.98 L251.53 962.59 L253.43 962.22 L255.33 961.85 L257.22 961.50 L259.12 961.16 L261.02 960.83 L262.91 960.50 L264.81 960.19 L266.70 959.89 L268.60 959.59 L270.50 959.30 L272.39 959.02 L274.29 958.75 L276.19 958.48 L278.08 958.22 L279.98 957.96 L281.88 957.71 L283.77 957.46 L285.67 957.22 L287.57 956.98 L289.46 956.75 L291.36 956.52 L293.26 956.30 L295.15 956.08 L297.05 955.86 L298.94 955.65 L300.84 955.44 L302.74 955.23 L304.63 955.02 L306.53 954.82 L308.43 954.62 L310.32 954.43 L312.22 954.23 L314.12 954.04 L316.01 953.85 L317.91 953.66 L319.81 953.48 L321.70 953.30 L323.60 953.11 L325.50 952.94 L327.39 952.76 L329.29 952.58 L331.18 952.41 L333.08 952.23 L334.98 952.06 L336.87 951.89 L338.77 951.72 L340.67 951.56 L342.56 951.39 L344.46 951.23 L346.36 951.06 L348.25 950.90 L350.15 950.74 L352.05 950.58 L353.94 950.42 L355.84 950.26 L357.74 950.10 L359.63 949.95 L361.53 949.79 L363.42 949.64 L365.32 949.48 L367.22 949.33 L369.11 949.18 L371.01 949.02 L372.91 948.87 L374.80 948.72 L376.70 948.57 L378.60 948.43 L380.49 948.28 L382.39 948.13 L384.29 947.98 L386.18 947.84 L388.08 947.69 L389.98 947.54 L391.87 947.40 L393.77 947.26 L395.66 947.11 L397.56 946.97 L399.46 946.83 L401.35 946.68 L403.25 946.54 L405.15 946.40 L407.04 946.26 L408.94 946.12 L410.84 945.98 L412.73 945.84 L414.63 945.70 L416.53 945.56 L418.42 945.42 L420.32 945.28 L422.22 945.14 L424.11 945.01 L426.01 944.87" fill="none" stroke="#f00" stroke-width="3.2" stroke-linecap="round" stroke-linejoin="round"/>
<circle cx="262.90" cy="1122.40" r="9" fill="none" stroke="#000" stroke-width="1.35"/>
<text x="287.80" y="1128.30" font-size="17.5" font-weight="normal">Experimenta data</text>
<path d="M243.60 1166.10H282.80" stroke="#f00" stroke-width="3" stroke-linecap="round"/>
<text x="287.90" y="1172.40" font-size="17.5" font-weight="normal">Fit to LA model</text>
<path d="M567.40 1163.20h6M567.40 1069.00h6M567.40 974.80h6M910.30 1131.80h-6M910.30 1054.50h-6M910.30 977.20h-6M910.30 899.90h-6M595.98 1194.30v-6M667.41 1194.30v-6M738.85 1194.30v-6M810.29 1194.30v-6M881.73 1194.30v-6" stroke="#333" stroke-width="1.2" fill="none"/>
<rect x="567.40" y="899.90" width="342.90" height="294.40" fill="none" stroke="#333" stroke-width="1.25"/>
<text transform="translate(528.09 1171.00) scale(1 1.065)" font-size="29.5" font-weight="normal">30</text>
<text transform="translate(528.09 1076.80) scale(1 1.065)" font-size="29.5" font-weight="normal">45</text>
<text transform="translate(528.09 982.60) scale(1 1.065)" font-size="29.5" font-weight="normal">60</text>
<path transform="translate(916.80 1140.40) scale(0.01440 -0.01534)" d="M763 0H583V1098Q518 1038 413 979T223 890V1057Q374 1125 487 1221T647 1409H763Z" fill="#000"/>
<text transform="translate(916.80 1063.10) scale(1 1.065)" font-size="29.5" font-weight="normal">2</text>
<text transform="translate(916.80 985.80) scale(1 1.065)" font-size="29.5" font-weight="normal">3</text>
<text transform="translate(916.80 908.50) scale(1 1.065)" font-size="29.5" font-weight="normal">4</text>
<text transform="translate(567.27 1223.30) scale(1 1.065)" font-size="29.5" font-weight="normal">0.00</text>
<text transform="translate(638.70 1223.30) scale(1 1.065)" font-size="29.5" font-weight="normal">0.25</text>
<text transform="translate(710.14 1223.30) scale(1 1.065)" font-size="29.5" font-weight="normal">0.50</text>
<text transform="translate(781.58 1223.30) scale(1 1.065)" font-size="29.5" font-weight="normal">0.75</text>
<path transform="translate(853.02 1223.30) scale(0.01440 -0.01534)" d="M763 0H583V1098Q518 1038 413 979T223 890V1057Q374 1125 487 1221T647 1409H763Z" fill="#000"/><text transform="translate(869.42 1223.30) scale(1 1.065)" font-size="29.5" font-weight="normal">.00</text>
<text x="616.75" y="1271.40" font-size="29.5" font-weight="bold">Concentration (x)</text>
<g transform="translate(505.00 1069.50) rotate(-90)"><text transform="translate(-75.92 0.00) scale(1 1.06)" font-size="30.2" font-weight="bold">M</text><text transform="translate(-50.77 12.20) scale(1 1.06)" font-size="18.5" font-weight="normal">s</text><text transform="translate(-41.52 0.00) scale(1 1.06)" font-size="30.2" font-weight="bold"> (emu/g)</text></g>
<g transform="translate(973.10 1049.00) rotate(-90)"><text transform="translate(-111.10 0.00) scale(1 1.06)" font-size="30.2" font-weight="bold">K</text><path transform="translate(-89.29 11.60) scale(0.00903 -0.00958)" d="M763 0H583V1098Q518 1038 413 979T223 890V1057Q374 1125 487 1221T647 1409H763Z" fill="#000"/><text transform="translate(-79.00 0.00) scale(1 1.06)" font-size="30.2" font-weight="bold"> (</text><path transform="translate(-60.55 0.00) scale(0.01475 -0.01563)" d="M856 0H575V1018Q421 879 213 813V1058Q322 1093 450 1188T626 1409H856Z" fill="#000"/><text transform="translate(-43.76 0.00) scale(1 1.06)" font-size="30.2" font-weight="bold">0</text><text transform="translate(-26.96 -16.80) scale(1 1.06)" font-size="18.5" font-weight="normal">6</text><text transform="translate(-16.67 0.00) scale(1 1.06)" font-size="30.2" font-weight="bold"> erg/cm</text><text transform="translate(90.75 -16.80) scale(1 1.06)" font-size="18.5" font-weight="normal">3</text><text transform="translate(101.04 0.00) scale(1 1.06)" font-size="30.2" font-weight="bold">)</text></g>
<path d="M604.62 927.08L658.48 948.82M675.35 956.58L729.95 984.92M744.98 995.57L803.32 1050.43M817.08 1062.94L874.02 1113.06" stroke="#f00" stroke-width="2.6" fill="none" stroke-linecap="round"/>
<path d="M593.06 960.93L650.24 1008.27M665.11 1019.41L720.89 1057.09M736.61 1067.03L792.39 1099.97M808.22 1109.74L863.38 1145.26" stroke="#00f" stroke-width="2.6" fill="none" stroke-linecap="round"/>
<g fill="#f00"><rect x="589.80" y="917.40" width="12.4" height="12.4"/><rect x="660.90" y="946.10" width="12.4" height="12.4"/><rect x="732.00" y="983.00" width="12.4" height="12.4"/><rect x="803.90" y="1050.60" width="12.4" height="12.4"/><rect x="874.80" y="1113.00" width="12.4" height="12.4"/></g>
<g fill="#00f"><circle cx="585.90" cy="955.00" r="6.9"/><circle cx="657.40" cy="1014.20" r="6.9"/><circle cx="728.60" cy="1062.30" r="6.9"/><circle cx="800.40" cy="1104.70" r="6.9"/><circle cx="871.20" cy="1150.30" r="6.9"/></g>
<path d="M769.6 950.8H805.9" stroke="#f00" stroke-width="3.4" stroke-linecap="round"/>
<rect x="780.3" y="943.4" width="14.6" height="14.4" fill="#f00"/>
<text x="809.00" y="955.30" font-size="29.5" font-weight="bold">M</text>
<text x="832.57" y="961.90" font-size="29.5" font-weight="bold">s</text>
<path d="M695.1 1146H731.4" stroke="#00f" stroke-width="3.4" stroke-linecap="round"/>
<circle cx="713.6" cy="1146" r="8.1" fill="#00f"/>
<text x="737.50" y="1151.00" font-size="29.5" font-weight="bold">K</text><path transform="translate(758.80 1156.70) scale(0.01440 -0.01440)" d="M856 0H575V1018Q421 879 213 813V1058Q322 1093 450 1188T626 1409H856Z" fill="#000"/>
</svg>
</body></html>
